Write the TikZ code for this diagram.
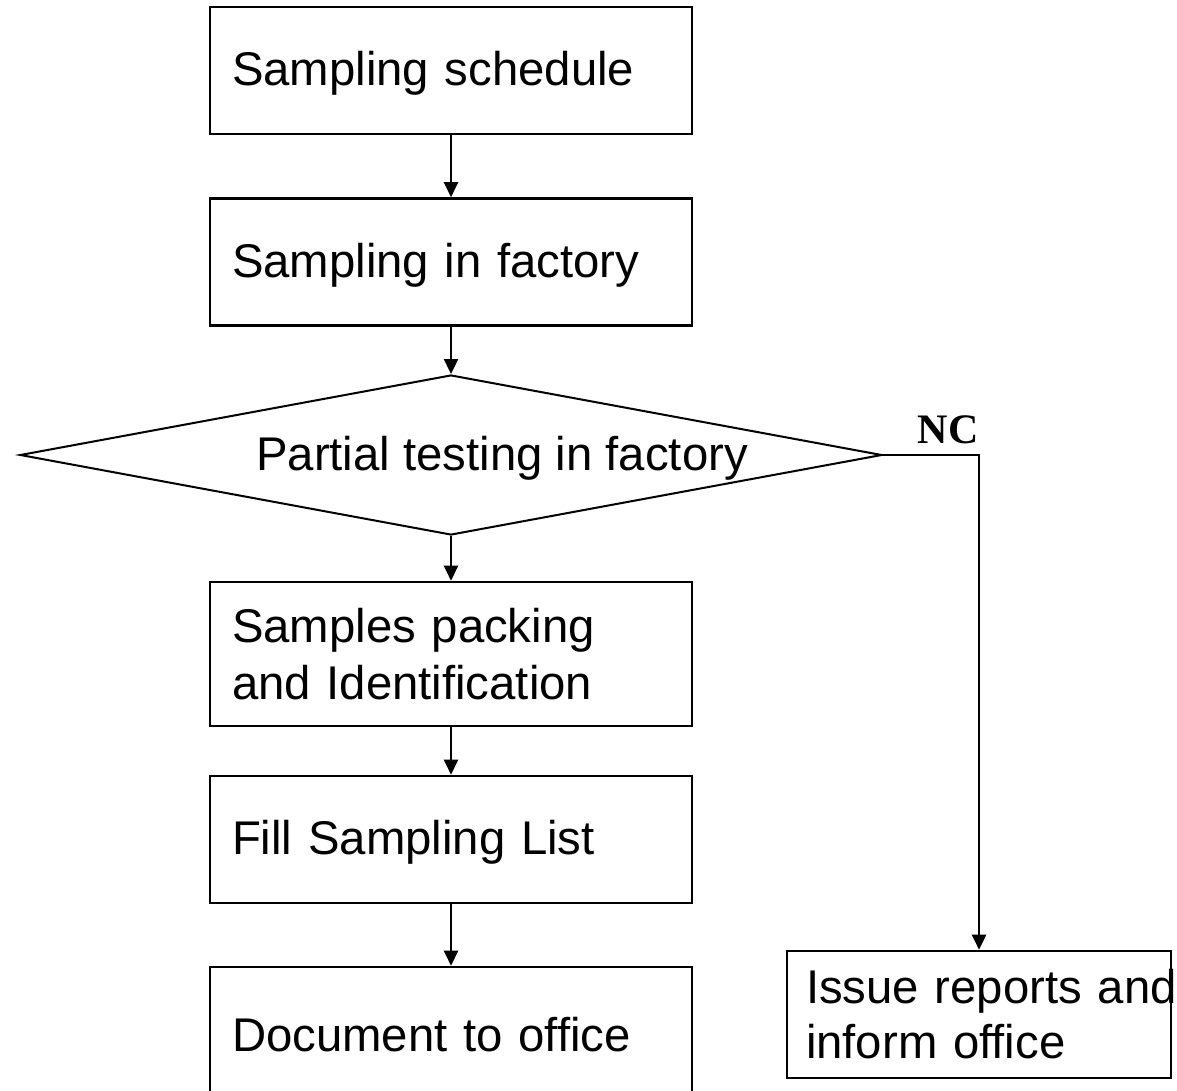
\documentclass[tikz,border=0pt]{standalone}
\usepackage{fontspec}
\setmainfont{Liberation Sans}
\newfontfamily\ncfont{Liberation Serif}
\usetikzlibrary{arrows.meta,shapes.geometric}
\newcommand{\onelinetxt}[1]{\raisebox{0pt}[0.905em][0.25em]{#1}}
\begin{document}
\begin{tikzpicture}[x=1pt,y=-1pt,
  box/.style={draw,line width=2.6pt,minimum width=482pt,minimum height=127pt,
    text width=438pt,inner xsep=22pt,align=left,font=\fontsize{47.3}{56.5}\selectfont},
  arr/.style={line width=2.4pt,-{Triangle[length=15pt,width=14pt]}},
  lbl/.style={font=\fontsize{47.3}{56.5}\selectfont,inner sep=0pt}]
\useasboundingbox (0,0) rectangle (1177,1091);
\node[box] (b1) at (451,70.5) {\onelinetxt{Sampling schedule}};
\node[box] (b2) at (451,262) {\onelinetxt{Sampling in factory}};
\node[draw,diamond,line width=2pt,minimum width=862pt,minimum height=160pt,inner sep=0pt] (d) at (451,455) {};
\node[lbl] (dt) at (502,458) {Partial testing in factory};
\node[box,minimum height=144pt] (b3) at (451,654) {Samples packing\\and Identification};
\node[box] (b4) at (451,839.5) {\onelinetxt{Fill Sampling List}};
\node[box,minimum height=137pt] (b5) at (451,1035.5) {\onelinetxt{Document to office}};
\node[box,minimum width=384pt,text width=346pt,inner xsep=19pt,font=\fontsize{47.3}{55}\selectfont] (b6) at (979,1014.5) {\mbox{Issue reports and}\\inform office};
\node[font=\ncfont\bfseries\fontsize{42}{42}\selectfont,anchor=base,inner sep=0pt] (nc) at (948,443) {NC};
\draw[arr] (b1) -- (b2);
\draw[arr] (b2) -- (d.north);
\draw[arr] (d.south) -- (b3);
\draw[arr] (b3) -- (b4);
\draw[arr] (b4) -- (b5.north);
\draw[arr,line width=2.6pt] (d.east) -| (b6.north);
\end{tikzpicture}
\end{document}
